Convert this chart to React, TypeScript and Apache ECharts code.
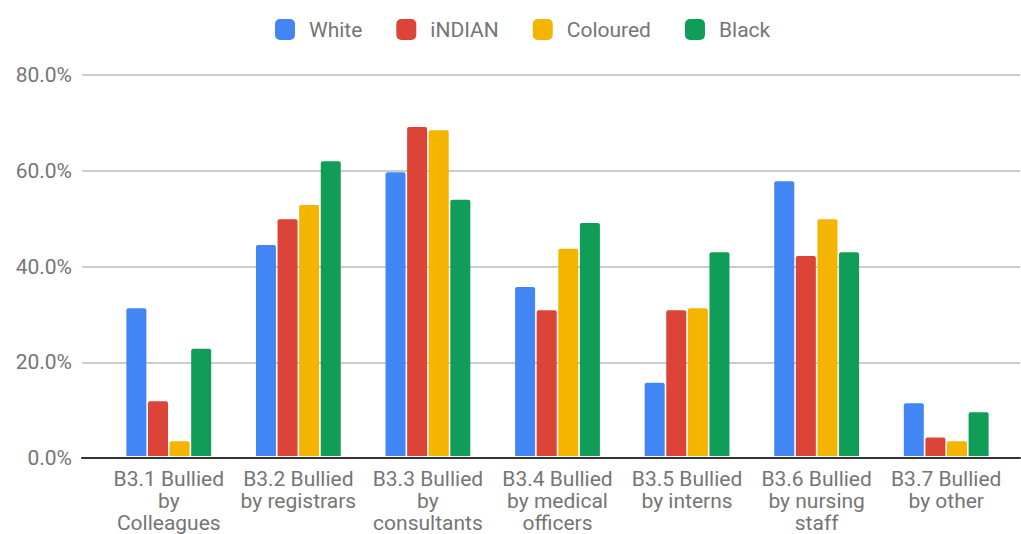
import React, { useEffect, useRef } from "react";
import * as echarts from "echarts";

const categories = [
  "B3.1 Bullied\nby\nColleagues",
  "B3.2 Bullied\nby registrars",
  "B3.3 Bullied\nby\nconsultants",
  "B3.4 Bullied\nby medical\nofficers",
  "B3.5 Bullied\nby interns",
  "B3.6 Bullied\nby nursing\nstaff",
  "B3.7 Bullied\nby other",
];

const white = [31.0, 44.3, 59.6, 35.5, 15.4, 57.7, 11.1];
const indian = [11.5, 49.7, 69.1, 30.6, 30.6, 42.0, 3.9];
const coloured = [3.1, 52.7, 68.4, 43.5, 31.0, 49.7, 3.1];
const black = [22.5, 61.9, 53.8, 48.9, 42.8, 42.8, 9.2];

const seriesNames = ["White", "iNDIAN", "Coloured", "Black"];
const seriesColors = ["#4285F4", "#DB4437", "#F4B400", "#0F9D58"];
const seriesValues = [white, indian, coloured, black];

const yTicks = { min: 0, max: 80, interval: 20 };

const FONT = "Roboto, 'Noto Sans', sans-serif";
const TEXT = "#757575";

export default function App() {
  const ref = useRef<HTMLDivElement>(null);

  useEffect(() => {
    if (!ref.current) return;
    const chart = echarts.init(ref.current, undefined, { renderer: "svg" });
    chart.setOption({
      animation: false,
      textStyle: { fontFamily: FONT },
      legend: {
        top: 14,
        left: 270,
        itemWidth: 20,
        itemHeight: 21,
        itemGap: 34,
        icon: "roundRect",
        textStyle: { color: TEXT, fontSize: 21, fontFamily: FONT, padding: [0, 0, 0, 9] },
        data: seriesNames,
      },
      grid: [
        // frame grid: gridlines, y labels and baseline
        { left: 82, right: 1, top: 75, bottom: 76 },
        // bar grid
        { left: 104, right: 10, top: 75, bottom: 76 },
      ],
      xAxis: [
        {
          type: "category",
          gridIndex: 0,
          data: [""],
          axisLine: { show: true, lineStyle: { color: "#333", width: 2 } },
          axisTick: { show: false },
          axisLabel: { show: false },
          z: 5,
        },
        {
          type: "category",
          gridIndex: 1,
          data: categories,
          axisLine: { show: false },
          axisTick: { show: false },
          axisLabel: {
            color: TEXT,
            fontSize: 21,
            lineHeight: 22,
            margin: 12,
            interval: 0,
            fontFamily: FONT,
          },
        },
      ],
      yAxis: [
        {
          type: "value",
          gridIndex: 0,
          min: yTicks.min,
          max: yTicks.max,
          interval: yTicks.interval,
          axisLine: { show: false },
          axisTick: { show: false },
          axisLabel: {
            color: TEXT,
            fontSize: 21,
            margin: 10,
            fontFamily: FONT,
            formatter: (v: number) => v.toFixed(1) + "%",
          },
          splitLine: { lineStyle: { color: "#cccccc", width: 2 } },
        },
        {
          type: "value",
          gridIndex: 1,
          min: yTicks.min,
          max: yTicks.max,
          interval: yTicks.interval,
          show: false,
          splitLine: { show: false },
        },
      ],
      series: seriesNames.map((name, i) => ({
        name,
        type: "bar",
        xAxisIndex: 1,
        yAxisIndex: 1,
        data: seriesValues[i],
        barWidth: 20,
        barGap: "8%",
        itemStyle: { color: seriesColors[i], borderRadius: [2, 2, 0, 0] },
      })),
    });
    return () => chart.dispose();
  }, []);

  return <div ref={ref} style={{ width: 1021, height: 534, position: "absolute", left: 0, top: 0 }} />;
}
